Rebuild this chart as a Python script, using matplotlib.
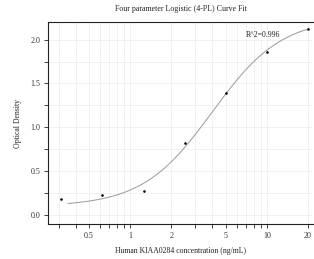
import numpy as np
import matplotlib
matplotlib.use("Agg")
import matplotlib.pyplot as plt
from matplotlib.ticker import LogLocator, FixedLocator, FixedFormatter, MultipleLocator

# standard concentrations (ng/mL) and measured OD
conc = [0.3125, 0.625, 1.25, 2.5, 5, 10, 20]
od = [0.19, 0.228, 0.28, 0.817, 1.393, 1.856, 2.12]

# 4PL parameters (bottom, slope, ec50, top)
A, B, C, D = 0.1, 1.7, 3.98, 2.25
r2_text = "R^2=0.996"

xticks = [0.5, 1, 2, 5, 10, 20]
xticklabels = ["0.5", "1", "2", "5", "10", "20"]

plt.rcParams['font.family'] = ['Liberation Serif', 'DejaVu Serif']

fig = plt.figure(figsize=(3.14, 2.59), dpi=100)
ax = fig.add_axes([0.153, 0.135, 0.844, 0.78])

xs = np.logspace(np.log10(0.35), np.log10(20), 200)
ys = D + (A - D) / (1 + (xs / C) ** B)
ax.plot(xs, ys, color='#999999', lw=0.7, zorder=2)
ax.scatter(conc, od, s=3.5, color='black', zorder=3, linewidths=0)

ax.set_xscale('log')
ax.set_xlim(0.25, 21.8)
ax.set_ylim(-0.1, 2.2)

ax.xaxis.set_major_locator(FixedLocator(xticks))
ax.xaxis.set_major_formatter(FixedFormatter(xticklabels))
ax.xaxis.set_minor_locator(LogLocator(base=10, subs=np.arange(1, 10)))
ax.xaxis.set_minor_formatter(plt.NullFormatter())
ax.yaxis.set_major_locator(MultipleLocator(0.5))
ax.yaxis.set_minor_locator(MultipleLocator(0.25))
ax.yaxis.set_major_formatter(plt.FormatStrFormatter('%.1f'))

ax.grid(which='both', color='#ececec', lw=0.5, zorder=0)
ax.set_axisbelow(True)

ax.tick_params(which='both', direction='out', labelsize=5.8, labelcolor='#333333',
               color='#222222', length=3.2, width=0.6, pad=2.5)
for s in ['left', 'bottom', 'top']:
    ax.spines[s].set_linewidth(0.8)
    ax.spines[s].set_color('#222222')
ax.spines['right'].set_visible(False)

ax.set_title("Four parameter Logistic (4-PL) Curve Fit", fontsize=5.7, pad=8, color='#222222')
ax.set_xlabel("Human KIAA0284 concentration (ng/mL)", fontsize=5.6, labelpad=5, color='#222222')
ax.set_ylabel("Optical Density", fontsize=5.6, labelpad=6, color='#222222')
ax.text(0.745, 0.935, r2_text, transform=ax.transAxes, fontsize=5.6, va='center', color='#222222')

fig.savefig("out.png", dpi=100)
